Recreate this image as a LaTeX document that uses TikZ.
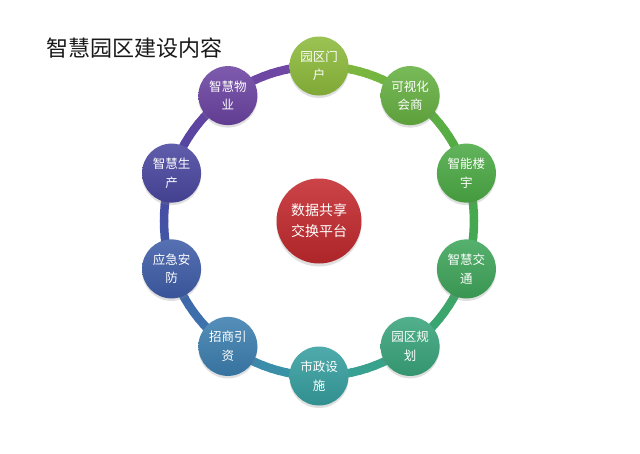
\documentclass[tikz,border=0pt]{standalone}
\usepackage{fontspec}
\newfontfamily\cjk{Noto Sans CJK SC}
\usetikzlibrary{shadows}
\definecolor{c0}{HTML}{8DBB3C}
\definecolor{c1}{HTML}{66B142}
\definecolor{c2}{HTML}{4CAA45}
\definecolor{c3}{HTML}{3FA65A}
\definecolor{c4}{HTML}{3AA57C}
\definecolor{c5}{HTML}{379FA0}
\definecolor{c6}{HTML}{3D7FB0}
\definecolor{c7}{HTML}{3F5DA8}
\definecolor{c8}{HTML}{4A47A0}
\definecolor{c9}{HTML}{6C44A2}
\definecolor{c10}{HTML}{7048A6}
\definecolor{hubred}{HTML}{C42A2E}
\tikzset{
  ringpiece/.style={line width=8.5pt, line cap=round},
  ballnode/.style={circle, minimum size=59pt, inner sep=0pt, text=white,
    align=center, font=\cjk\fontsize{12.5}{18.5}\selectfont,
    drop shadow={opacity=0.25, shadow xshift=0pt, shadow yshift=-2.5pt}},
  hubnode/.style={circle, minimum size=85pt, inner sep=0pt, text=white,
    align=center, font=\cjk\fontsize{14}{21}\selectfont,
    top color=hubred!88!white, bottom color=hubred!88!black,
    drop shadow={opacity=0.25, shadow xshift=0pt, shadow yshift=-3pt}},
  titletext/.style={anchor=west, inner sep=0pt, text=black!90,
    font=\cjk\fontsize{22}{26}\selectfont}
}
\begin{document}
\begin{tikzpicture}[x=1pt,y=-1pt]
\fill[white] (0,0) rectangle (640,453);
\useasboundingbox (0,0) rectangle (640,453);
\def\cx{319}\def\cy{221}\def\R{155}
% ring
\foreach \i in {0,...,9}{
  \pgfmathtruncatemacro\j{\i+1}
  \foreach \k in {0,...,11}{
    \pgfmathsetmacro\aa{36*\i+3*\k}
    \pgfmathsetmacro\ab{\aa+3}
    \pgfmathtruncatemacro\q{round(100*(\k+0.5)/12)}
    \draw[ringpiece, color=c\j!\q!c\i]
      ({\cx+\R*sin(\aa)},{\cy-\R*cos(\aa)}) -- ({\cx+\R*sin(\ab)},{\cy-\R*cos(\ab)});
  }
}
% title
\node[titletext] (title) at (46,48) {智慧园区建设内容};
% hub
\node[hubnode] (hub) at (\cx,\cy) {数据共享\\交换平台};
% outer nodes
\foreach \i/\t in {0/园区门\\户, 1/可视化\\会商, 2/智能楼\\宇, 3/智慧交\\通, 4/园区规\\划,
                   5/市政设\\施, 6/招商引\\资, 7/应急安\\防, 8/智慧生\\产, 9/智慧物\\业}{
  \pgfmathsetmacro\a{36*\i}
  \node[ballnode, top color=c\i!88!white, bottom color=c\i!90!black] (n\i)
    at ({\cx+\R*sin(\a)},{\cy-\R*cos(\a)}) {\t};
}
\end{tikzpicture}
\end{document}
